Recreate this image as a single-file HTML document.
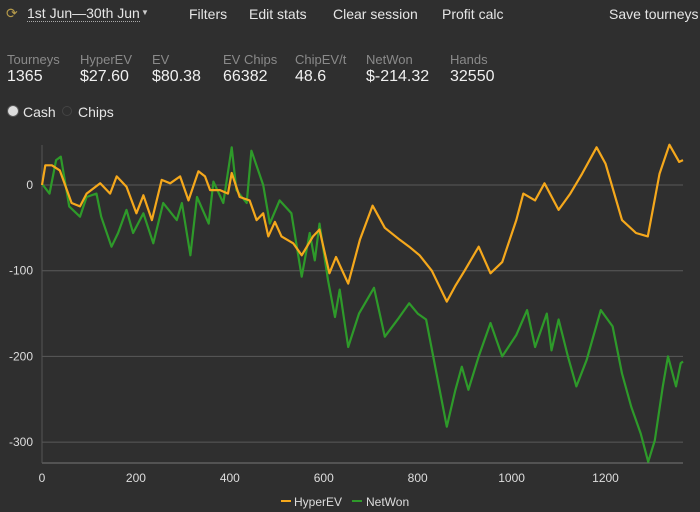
<!DOCTYPE html>
<html><head><meta charset="utf-8">
<style>
body{margin:0;width:700px;height:512px;background:#2f2f2f;font-family:"Liberation Sans",sans-serif;color:#e6e6e6;overflow:hidden;position:relative}
.t{position:absolute;font-size:14px;white-space:nowrap}
.lab{position:absolute;top:52px;font-size:13px;color:#8a8a8a}
.val{position:absolute;top:68px;font-size:16px;color:#f0f0f0}
</style></head><body>
<div class="t" style="left:6px;top:5px;color:#b59a4a;font-size:14px">⟳</div>
<div class="t" style="left:27px;top:5px;border-bottom:1px dotted #aaa">1st Jun—30th Jun</div>
<div class="t" style="left:141px;top:8px;font-size:8px;color:#ccc">▼</div>
<div class="t" style="left:189px;top:6px">Filters</div>
<div class="t" style="left:249px;top:6px">Edit stats</div>
<div class="t" style="left:333px;top:6px">Clear session</div>
<div class="t" style="left:442px;top:6px">Profit calc</div>
<div class="t" style="left:609px;top:6px">Save tourneys</div>

<div class="lab" style="left:7px">Tourneys</div>
<div class="val" style="left:7px">1365</div>
<div class="lab" style="left:80px">HyperEV</div>
<div class="val" style="left:80px">$27.60</div>
<div class="lab" style="left:152px">EV</div>
<div class="val" style="left:152px">$80.38</div>
<div class="lab" style="left:223px">EV Chips</div>
<div class="val" style="left:223px">66382</div>
<div class="lab" style="left:295px">ChipEV/t</div>
<div class="val" style="left:295px">48.6</div>
<div class="lab" style="left:366px">NetWon</div>
<div class="val" style="left:366px">$-214.32</div>
<div class="lab" style="left:450px">Hands</div>
<div class="val" style="left:450px">32550</div>

<div style="position:absolute;left:8px;top:106px;width:10px;height:10px;border-radius:50%;background:#ddd;box-shadow:0 0 0 1px #555"></div>
<div class="t" style="left:23px;top:104px">Cash</div>
<div style="position:absolute;left:62px;top:106px;width:10px;height:10px;border-radius:50%;border:1px solid #444;box-sizing:border-box"></div>
<div class="t" style="left:78px;top:104px">Chips</div>

<svg id="chart" width="700" height="512" style="position:absolute;left:0;top:0"></svg>
<script>
const xTicks=[0,200,400,600,800,1000,1200];
const yTicks=[0,-100,-200,-300];
const hyperX=[0,7,21,38,63,81,95,124,145,159,180,201,216,234,255,273,294,312,333,347,358,379,396,404,421,442,457,471,482,496,510,535,553,577,591,612,626,652,677,704,730,762,782,804,830,862,880,900,930,955,980,1010,1025,1050,1070,1100,1125,1150,1181,1200,1235,1265,1290,1315,1336,1357,1365];
const hyperY=[0,23,23,17,-21,-25,-10,2,-10,10,-2,-33,-12,-41,6,2,10,-18,16,10,-6,-6,-10,14,-14,-18,-41,-33,-60,-43,-60,-68,-82,-60,-52,-103,-84,-115,-64,-24,-50,-64,-72,-82,-100,-136,-118,-100,-72,-103,-90,-41,-10,-18,2,-29,-10,13,44,25,-41,-56,-60,13,47,27,29];
const netX=[0,2,16,30,40,58,81,95,116,126,148,162,180,194,216,237,258,287,298,316,330,355,365,386,404,414,436,446,471,485,506,531,553,570,581,591,609,624,634,652,675,707,730,760,782,800,818,840,862,880,894,908,930,955,980,1010,1033,1050,1075,1085,1100,1120,1138,1160,1190,1215,1235,1255,1275,1291,1305,1322,1333,1350,1360,1365];
const netY=[0,0,-10,29,33,-25,-37,-14,-10,-37,-72,-56,-29,-56,-33,-68,-21,-41,-21,-82,-14,-45,4,-21,44,-6,-21,40,0,-45,-18,-33,-107,-56,-88,-45,-111,-154,-122,-189,-150,-120,-177,-155,-138,-150,-157,-220,-282,-240,-212,-239,-200,-161,-200,-175,-146,-189,-150,-193,-157,-200,-235,-204,-146,-165,-220,-259,-290,-323,-298,-235,-200,-235,-208,-206];
const svg=document.getElementById('chart');
const NS='http://www.w3.org/2000/svg';
const X0=42,X1=683,Y0=463,Y1=145;
const xs=v=>X0+v*(X1-X0)/1365;
const ys=v=>185-v*0.857;
function mk(tag,attrs){const e=document.createElementNS(NS,tag);for(const k in attrs)e.setAttribute(k,attrs[k]);svg.appendChild(e);return e;}
yTicks.forEach(t=>{
  const l=mk('line',{x1:X0,x2:X1,y1:ys(t),y2:ys(t),stroke:'#5a5a5a','stroke-width':1});
  
  
  const tx=mk('text',{x:33,y:ys(t)+4,'text-anchor':'end','font-size':12,fill:'#ddd','font-family':'Liberation Sans, sans-serif'});
  tx.textContent=t;
  
  
});
const ax=mk('line',{x1:X0,x2:X1,y1:Y0,y2:Y0,stroke:'#777','stroke-width':1});


const ay=mk('line',{x1:X0,x2:X0,y1:Y1,y2:Y0,stroke:'#555','stroke-width':1});


xTicks.forEach(t=>{
  const tx=mk('text',{x:xs(t),y:482,'text-anchor':'middle','font-size':12,fill:'#ddd','font-family':'Liberation Sans, sans-serif'});
  tx.textContent=t;
  
  
});
function series(xa,ya,color,name){
  const pts=xa.map((x,i)=>xs(x).toFixed(1)+','+ys(ya[i]).toFixed(1)).join(' ');
  const p=mk('polyline',{points:pts,fill:'none',stroke:color,'stroke-width':2.2,'stroke-linejoin':'round'});
  
  
}
series(netX,netY,'#2e9a2a','netwon-line');
series(hyperX,hyperY,'#f5a81c','hyperev-line');
const l1=mk('line',{x1:281,x2:291,y1:501,y2:501,stroke:'#f5a81c','stroke-width':2});


const t1=mk('text',{x:294,y:506,'font-size':12,fill:'#ddd','font-family':'Liberation Sans, sans-serif'});
t1.textContent='HyperEV';


const l2=mk('line',{x1:352,x2:362,y1:501,y2:501,stroke:'#2e9a2a','stroke-width':2});


const t2=mk('text',{x:366,y:506,'font-size':12,fill:'#ddd','font-family':'Liberation Sans, sans-serif'});
t2.textContent='NetWon';


</script>
</body></html>
